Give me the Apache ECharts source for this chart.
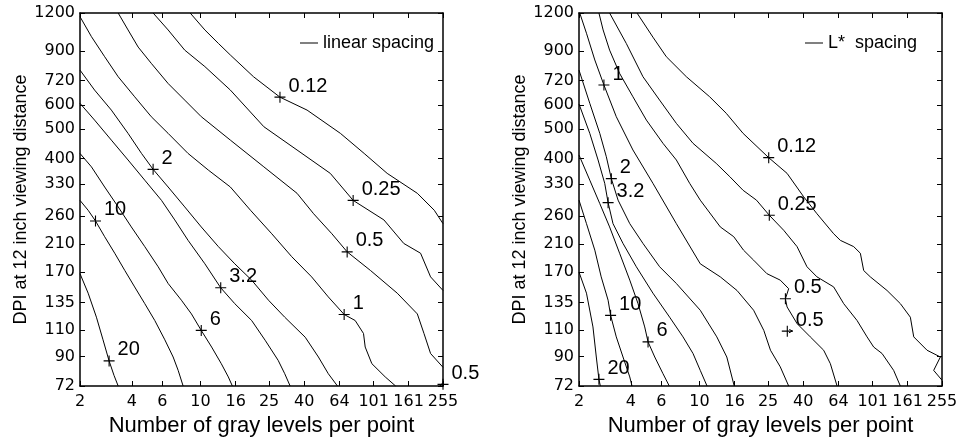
<!DOCTYPE html>
<html>
<head>
<meta charset="utf-8">
<script src="https://cdn.jsdelivr.net/npm/echarts@6/dist/echarts.min.js"></script>
<style>
  html, body { margin: 0; padding: 0; background: #fff; }
  #chart { width: 959px; height: 438px; }
</style>
</head>
<body>
<div id="chart"></div>
<script>
// axis ticks (both panels share them)
const xTicks = [2, 4, 6, 10, 16, 25, 40, 64, 101, 161, 255];
const yTicks = [72, 90, 110, 135, 170, 210, 260, 330, 400, 500, 600, 720, 900, 1200];

// left panel, linear spacing: contour traces (gray levels, DPI)
const lin20X = [2, 2.23, 2.49, 2.72, 2.95, 3.15, 3.33];
const lin20Y = [168, 145, 121, 102, 87, 78, 72];
const lin10X = [2, 2.23, 2.46, 2.78, 3.18, 3.64, 4.15, 4.75, 5.43, 6.21, 6.94, 7.42, 7.93];
const lin10Y = [292, 271, 250, 222, 196, 172, 152, 134, 118, 102, 89.6, 81, 72];
const lin6X = [2, 2.33, 2.78, 3.33, 3.97, 4.75, 5.68, 6.49, 7.75, 8.86, 10.1, 11.6, 13.2, 14.5, 15.3];
const lin6Y = [416, 376, 323, 278, 239, 206, 177, 156, 137.5, 124, 109.5, 96.6, 85.2, 77.1, 72];
const lin3X = [2, 2.43, 3.04, 3.8, 4.75, 5.94, 7.09, 8.47, 10.6, 13.1, 15.8, 19.8, 23.7, 28.2, 30.8, 33.1];
const lin3Y = [607, 535, 460, 396, 340, 292, 252, 216, 181, 151, 134, 118, 101.7, 87.4, 79, 72];
const lin2X = [2, 2.43, 3.04, 3.8, 4.55, 5.31, 6.49, 8.1, 10.1, 12.7, 15.8, 19.8, 24.8, 30.8, 40.5, 48.3, 55.1, 62.3];
const lin2Y = [780, 671, 577, 484, 416, 369, 323, 278, 239, 206, 181, 160, 137.5, 121, 104, 89.6, 79, 72];
const lin1X = [2, 2.33, 2.78, 3.33, 4.15, 5.18, 6.49, 8.47, 11.1, 14.9, 19.5, 25.9, 33.8, 44.1, 55.1, 68.1, 78.9, 88.2, 90.2, 98.6, 117.9, 135.4];
const lin1Y = [1167, 1004, 863, 742, 638, 549, 484, 416, 367, 323, 271, 227, 191, 164, 141, 123.5, 118, 107, 96.6, 85.2, 77.1, 72];
const lin05X = [3.33, 3.8, 4.35, 5.18, 6.49, 8.1, 10.1, 14.9, 23.3, 36.3, 45.3, 57.8, 70.9, 96.9, 138.4, 181, 197.8, 216, 255];
const lin05Y = [1200, 1056, 928, 821, 705, 622, 549, 460, 376, 308, 264, 227, 198, 172, 145, 124, 107, 92, 82.9];
const lin025X = [5.31, 6.49, 8.1, 10.6, 14.9, 23.3, 36.3, 56.6, 76.8, 115.8, 151, 189, 216, 255];
const lin025Y = [1200, 1056, 907, 801, 671, 509, 427, 358, 292, 252, 211, 196, 164, 148];
const lin012X = [8.71, 10.6, 12.7, 14.9, 20.3, 28.9, 41.5, 64.8, 89, 121, 181, 227, 255];
const lin012Y = [1200, 1056, 954, 874, 742, 636, 577, 484, 416, 358, 308, 271, 245];
const linCornerX = [246, 255];
const linCornerY = [72, 74];

const linLabels = ['0.12', '0.25', '0.5', '1', '2', '3.2', '6', '10', '20', '0.5'];
const linLabelX = [28.9, 76.8, 70.9, 68.1, 5.31, 13.1, 10.1, 2.46, 2.95, 255];
const linLabelY = [636, 292, 198, 123.5, 369, 151, 109.5, 250, 87, 72.9];

// right panel, L* spacing
const lab20X = [2, 2.21, 2.41, 2.52, 2.61, 2.66];
const lab20Y = [170, 145, 112.4, 89.6, 75.7, 72];
const lab10X = [2, 2.21, 2.47, 2.69, 2.95, 3.05, 3.29, 3.6, 3.94, 4.06];
const lab10Y = [292.5, 245, 200.6, 164, 137.5, 122.7, 104.3, 89.6, 77.1, 72];
const lab6X = [2, 2.31, 2.64, 3.01, 3.44, 3.94, 4.4, 4.81, 5.03, 5.5, 6.14, 6.68];
const lab6Y = [411, 340, 285, 239, 196, 160, 134, 112.4, 100.4, 89.6, 79, 72];
const lab3X = [2, 2.31, 2.58, 2.82, 2.95, 3.15, 3.6, 4.3, 5.37, 6.71, 8.02, 9.17, 10.1, 11.06];
const lab3Y = [604, 484, 396, 332, 287, 245, 211, 177, 145, 121, 104.3, 92, 81, 72];
const lab2X = [2, 2.31, 2.64, 2.88, 3.08, 3.37, 3.94, 4.7, 5.87, 7.34, 10.1, 12.6, 14.4, 15.9];
const lab2Y = [780, 607, 484, 406, 344, 292.5, 245, 211, 177, 156, 127.5, 104.3, 89.6, 72];
const lab1X = [2.02, 2.21, 2.47, 2.79, 3.29, 4.11, 5.37, 7.34, 10.1, 13.2, 16.5, 20.6, 23.6, 25.8, 29.4, 32.9];
const lab1Y = [1200, 1030, 842, 697, 549, 427, 332, 245, 181, 164, 148, 127.5, 109.5, 94.3, 83.2, 72];
const lab05X = [2.61, 2.76, 3.01, 3.44, 4.11, 4.92, 6.14, 7.34, 8.77, 10.1, 13.2, 15.8, 18, 20.6, 24.6, 29.4, 32.9, 31.5, 32.2, 36.8, 43.9, 52.5, 57.4, 62.8];
const lab05Y = [1200, 1056, 907, 761, 638, 535, 449, 396, 332, 292.5, 239, 222, 200.6, 186, 168, 160, 150, 139, 130.7, 115.3, 104.3, 94.3, 85.2, 72];
const lab025X = [3.01, 3.76, 4.7, 5.87, 7.34, 9.17, 12.5, 15, 17.9, 21.4, 25.4, 30.8, 36.8, 42, 48, 60, 68.6, 82, 93.7, 102.4, 114.5, 133.7, 146.2];
const lab025Y = [1200, 954, 742, 622, 522, 449, 386, 349, 315, 292.5, 261, 233, 206, 177, 164, 152, 134, 118, 104.3, 96.6, 92, 81, 72];
const lab012X = [4.34, 5.37, 6.42, 8.39, 11.45, 14.3, 17.9, 25.2, 32.2, 40.2, 48, 60, 65.6, 78.4, 85.7, 89.6, 97.9, 122.4, 146.2, 167.1, 174.8, 208.8, 249.5, 228.2, 255];
const lab012Y = [1200, 1000, 863, 742, 638, 563, 484, 403, 358, 300, 264, 227, 216, 206, 196, 172, 164, 148, 134, 121, 104.3, 94.3, 89.6, 81, 75.2];
const labHookX = [33, 34.6, 33.2];
const labHookY = [107.5, 109, 110.3];

const labLabels = ['1', '2', '3.2', '10', '6', '20', '0.12', '0.25', '0.5', '0.5'];
const labLabelX = [2.79, 3.08, 2.95, 3.05, 5.03, 2.61, 25.2, 25.4, 31.5, 32.3];
const labLabelY = [697, 344, 287, 122.7, 100.4, 75.7, 403, 261, 139, 108.9];

const plus = 'path://M4.5,0h1v10h-1zM0,4.5h10v1h-10z';
const tickFont = { fontFamily: 'DejaVu Sans', fontSize: 16, color: '#000' };

function contour(name, xs, ys, axis) {
  return {
    type: 'line', name, xAxisIndex: axis, yAxisIndex: axis,
    data: xs.map((x, i) => [x, ys[i]]),
    symbol: 'none', silent: true, clip: true,
    itemStyle: { color: '#000' },
    lineStyle: { color: '#000', width: 1 }
  };
}

function marks(texts, xs, ys, axis) {
  return {
    type: 'scatter', name: 'marks' + axis, xAxisIndex: axis, yAxisIndex: axis,
    data: xs.map((x, i) => [x, ys[i]]),
    symbol: plus, symbolSize: 11, silent: true, clip: false,
    itemStyle: { color: '#000', opacity: 1 },
    label: {
      show: true, position: 'right', distance: 3, offset: [0, -11],
      formatter: p => texts[p.dataIndex],
      fontFamily: 'Liberation Sans', fontSize: 20, color: '#000'
    }
  };
}

function xAxis(grid, top) {
  return {
    type: 'log', logBase: 10, gridIndex: grid, position: top ? 'top' : 'bottom',
    min: 2, max: 255,
    axisLine: { show: true, onZero: false, lineStyle: { color: '#000', width: 1.5 } },
    axisTick: { show: true, inside: true, length: 5, customValues: xTicks, lineStyle: { color: '#000' } },
    axisLabel: Object.assign({ show: !top, customValues: xTicks, margin: 8, formatter: v => String(Math.round(v)) }, tickFont),
    minorTick: { show: false }, splitLine: { show: false },
    name: top ? '' : 'Number of gray levels per point',
    nameLocation: 'middle', nameGap: 27,
    nameTextStyle: { fontFamily: 'Liberation Sans', fontSize: 22, color: '#000' }
  };
}

function yAxis(grid, right) {
  return {
    type: 'log', logBase: 10, gridIndex: grid, position: right ? 'right' : 'left',
    min: 72, max: 1200,
    axisLine: { show: true, onZero: false, lineStyle: { color: '#000', width: 1.5 } },
    axisTick: { show: true, inside: true, length: 5, customValues: yTicks, lineStyle: { color: '#000' } },
    axisLabel: Object.assign({ show: !right, customValues: yTicks, margin: 5, formatter: v => String(Math.round(v)) }, tickFont),
    minorTick: { show: false }, splitLine: { show: false },
    name: right ? '' : 'DPI at 12 inch viewing distance',
    nameLocation: 'middle', nameGap: 50,
    nameTextStyle: { fontFamily: 'Liberation Sans', fontSize: 18, color: '#000' }
  };
}

const linName = 'linear spacing';
const labName = 'L*  spacing';

function legend(name, left) {
  return {
    data: [{ name, icon: 'rect' }], left, top: 34, padding: 0,
    itemWidth: 18, itemHeight: 1, selectedMode: false,
    itemStyle: { color: '#000', borderWidth: 0 },
    textStyle: { fontFamily: 'Liberation Sans', fontSize: 18, color: '#000' }
  };
}

const chart = echarts.init(document.getElementById('chart'), null, { renderer: 'canvas' });
chart.setOption({
  animation: false,
  backgroundColor: '#fff',
  grid: [
    { left: 80, top: 13, width: 363, height: 373, containLabel: false, outerBoundsMode: 'none' },
    { left: 579, top: 13, width: 363, height: 373, containLabel: false, outerBoundsMode: 'none' }
  ],
  xAxis: [xAxis(0, false), xAxis(0, true), xAxis(1, false), xAxis(1, true)],
  yAxis: [yAxis(0, false), yAxis(0, true), yAxis(1, false), yAxis(1, true)],
  legend: [legend(linName, 300), legend(labName, 805)],
  series: [
    contour(linName, lin20X, lin20Y, 0),
    contour(linName, lin10X, lin10Y, 0),
    contour(linName, lin6X, lin6Y, 0),
    contour(linName, lin3X, lin3Y, 0),
    contour(linName, lin2X, lin2Y, 0),
    contour(linName, lin1X, lin1Y, 0),
    contour(linName, lin05X, lin05Y, 0),
    contour(linName, lin025X, lin025Y, 0),
    contour(linName, lin012X, lin012Y, 0),
    contour(linName, linCornerX, linCornerY, 0),
    marks(linLabels, linLabelX, linLabelY, 0),
    contour(labName, lab20X, lab20Y, 2),
    contour(labName, lab10X, lab10Y, 2),
    contour(labName, lab6X, lab6Y, 2),
    contour(labName, lab3X, lab3Y, 2),
    contour(labName, lab2X, lab2Y, 2),
    contour(labName, lab1X, lab1Y, 2),
    contour(labName, lab05X, lab05Y, 2),
    contour(labName, lab025X, lab025Y, 2),
    contour(labName, lab012X, lab012Y, 2),
    contour(labName, labHookX, labHookY, 2),
    marks(labLabels, labLabelX, labLabelY, 2)
  ]
});
</script>
</body>
</html>
